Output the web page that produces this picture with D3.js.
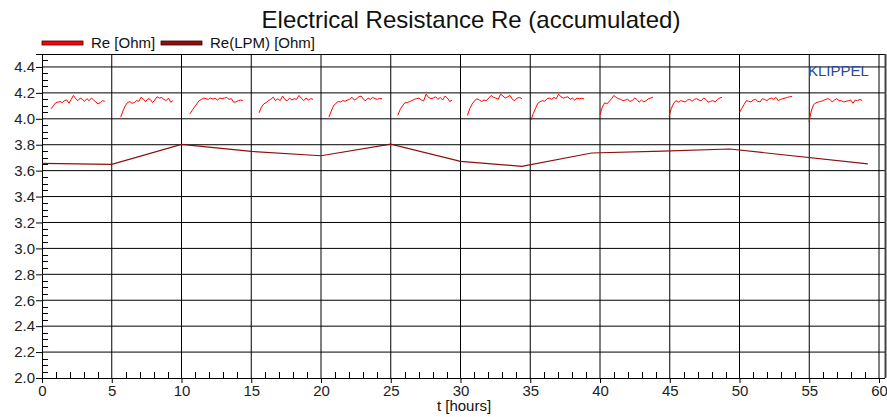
<!DOCTYPE html>
<html>
    <head>
        <title>Electrical Resistance Re (accumulated)</title>
        <meta charset="UTF-8">
        <script src="https://cdn.jsdelivr.net/npm/d3@7"></script>
        <style>
            body { margin: 0; background: #fff; }
            text { font-family: "Liberation Sans", Arial, sans-serif; }
        </style>
    </head>
    <body>
        <script>
// measured segments of Re (hours)
var segStart = [0.65, 5.64, 10.6, 15.56, 20.57, 25.5, 30.5, 35.05, 40.0, 44.95, 50.0, 54.98];
var segEnd = [4.5, 9.39, 14.4, 19.43, 24.37, 29.4, 34.4, 38.85, 43.8, 48.75, 53.76, 58.8];
var reSeg = [
    [4.077, 4.10, 4.123, 4.128, 4.133, 4.125, 4.14, 4.146, 4.12, 4.15, 4.18, 4.155, 4.14, 4.16, 4.15, 4.135, 4.155, 4.14, 4.16, 4.145, 4.13, 4.115, 4.125, 4.14, 4.135],
    [4.013, 4.06, 4.10, 4.125, 4.133, 4.12, 4.125, 4.14, 4.135, 4.167, 4.15, 4.133, 4.155, 4.15, 4.125, 4.145, 4.17, 4.16, 4.165, 4.15, 4.14, 4.16, 4.128, 4.14],
    [4.038, 4.065, 4.09, 4.115, 4.14, 4.15, 4.16, 4.155, 4.15, 4.16, 4.152, 4.158, 4.145, 4.16, 4.155, 4.16, 4.165, 4.15, 4.155, 4.128, 4.13, 4.14, 4.145, 4.141],
    [4.046, 4.09, 4.115, 4.125, 4.14, 4.15, 4.167, 4.14, 4.155, 4.14, 4.175, 4.148, 4.14, 4.16, 4.145, 4.155, 4.15, 4.18, 4.16, 4.14, 4.16, 4.145, 4.155, 4.15],
    [4.013, 4.06, 4.10, 4.12, 4.133, 4.13, 4.14, 4.135, 4.145, 4.15, 4.167, 4.145, 4.155, 4.17, 4.175, 4.15, 4.14, 4.16, 4.15, 4.165, 4.155, 4.15, 4.158, 4.154],
    [4.026, 4.07, 4.10, 4.123, 4.125, 4.133, 4.14, 4.15, 4.155, 4.16, 4.145, 4.14, 4.19, 4.165, 4.155, 4.16, 4.17, 4.15, 4.165, 4.145, 4.175, 4.16, 4.133, 4.145],
    [4.026, 4.08, 4.115, 4.14, 4.154, 4.145, 4.133, 4.145, 4.14, 4.16, 4.18, 4.165, 4.16, 4.15, 4.19, 4.175, 4.16, 4.17, 4.18, 4.15, 4.14, 4.16, 4.165, 4.155],
    [3.99, 4.04, 4.08, 4.12, 4.133, 4.14, 4.135, 4.155, 4.16, 4.15, 4.165, 4.155, 4.19, 4.17, 4.16, 4.165, 4.17, 4.15, 4.16, 4.145, 4.16, 4.155, 4.158, 4.154],
    [4.03, 4.09, 4.123, 4.115, 4.135, 4.154, 4.18, 4.165, 4.155, 4.15, 4.14, 4.145, 4.15, 4.135, 4.14, 4.16, 4.15, 4.128, 4.145, 4.13, 4.14, 4.155, 4.16, 4.167],
    [4.018, 4.08, 4.12, 4.14, 4.128, 4.14, 4.135, 4.13, 4.145, 4.15, 4.135, 4.15, 4.155, 4.145, 4.14, 4.16, 4.15, 4.128, 4.135, 4.14, 4.13, 4.15, 4.16, 4.165],
    [4.05, 4.08, 4.11, 4.14, 4.135, 4.13, 4.145, 4.15, 4.135, 4.13, 4.155, 4.15, 4.14, 4.155, 4.16, 4.15, 4.165, 4.14, 4.15, 4.155, 4.16, 4.165, 4.17, 4.172],
    [3.975, 4.06, 4.11, 4.123, 4.13, 4.133, 4.14, 4.148, 4.155, 4.15, 4.13, 4.145, 4.155, 4.14, 4.14, 4.13, 4.135, 4.14, 4.145, 4.12, 4.145, 4.14, 4.15, 4.14]
];
// Re(LPM)
var lpmT = [0, 5, 10, 15, 20, 25, 30, 34.4, 39.4, 44.5, 49.3, 59.2];
var lpmRe = [3.656, 3.648, 3.802, 3.748, 3.715, 3.805, 3.672, 3.633, 3.736, 3.75, 3.767, 3.652];

var xTicks = [0, 5, 10, 15, 20, 25, 30, 35, 40, 45, 50, 55, 60];
var yTicks = [2.0, 2.2, 2.4, 2.6, 2.8, 3.0, 3.2, 3.4, 3.6, 3.8, 4.0, 4.2, 4.4];

var Width = 887, Height = 417;
var pLeft = 42, pRight = 885, pTop = 54, pBottom = 378;

var svg = d3.select("body")
            .append("svg")
            .attr("width", Width)
            .attr("height", Height);

var x = d3.scaleLinear().domain([0, 60]).range([pLeft, 879]);
var y = d3.scaleLinear().domain([2.0, 4.5]).range([pBottom, pTop]);

// grid
svg.append("g").selectAll("line")
    .data(xTicks.slice(1))
    .enter().append("line")
    .attr("x1", function(d){return x(d);})
    .attr("x2", function(d){return x(d);})
    .attr("y1", pTop).attr("y2", pBottom)
    .attr("stroke", "#000").attr("stroke-width", 1);
svg.append("g").selectAll("line")
    .data(yTicks.slice(1))
    .enter().append("line")
    .attr("x1", pLeft).attr("x2", pRight)
    .attr("y1", function(d){return y(d);})
    .attr("y2", function(d){return y(d);})
    .attr("stroke", "#000").attr("stroke-width", 1);

// frame
svg.append("line").attr("x1", pLeft).attr("x2", pRight).attr("y1", pTop + 0.5).attr("y2", pTop + 0.5)
    .attr("stroke", "#000");
svg.append("line").attr("x1", pRight + 0.5).attr("x2", pRight + 0.5).attr("y1", pTop).attr("y2", pBottom)
    .attr("stroke", "#444").attr("stroke-width", 2);

// axes
var yAxis = d3.axisLeft(y).tickValues(yTicks).tickSize(6).tickPadding(1)
    .tickFormat(d3.format(".1f"));
var gy = svg.append("g").attr("transform", "translate(" + pLeft + ",0)").call(yAxis);
var xAxis = d3.axisBottom(x).tickValues(xTicks).tickSize(5).tickPadding(2)
    .tickFormat(d3.format("d"));
var gx = svg.append("g").attr("transform", "translate(0," + pBottom + ")").call(xAxis);
[gx, gy].forEach(function(g){
    g.select(".domain").attr("stroke", "#000");
    g.selectAll(".tick line").attr("stroke", "#000");
    g.selectAll("text").attr("fill", "#222").style("font-size", "15px")
        .style("font-family", "Liberation Sans, Arial, sans-serif");
});
gx.select(".domain").attr("d", "M" + pLeft + ",0.5H" + pRight);

// minor ticks (inside)
var yMinor = d3.range(2.05, 4.5, 0.05).filter(function(v){return Math.abs(v * 5 - Math.round(v * 5)) > 0.01;});
svg.append("g").selectAll("line").data(yMinor).enter().append("line")
    .attr("x1", pLeft).attr("x2", pLeft + 6)
    .attr("y1", function(d){return Math.round(y(d)) + 0.5;})
    .attr("y2", function(d){return Math.round(y(d)) + 0.5;})
    .attr("stroke", "#000");
var xMinor = d3.range(1, 60, 1).filter(function(v){return v % 5 != 0;});
svg.append("g").selectAll("line").data(xMinor).enter().append("line")
    .attr("x1", function(d){return Math.round(x(d)) + 0.5;})
    .attr("x2", function(d){return Math.round(x(d)) + 0.5;})
    .attr("y1", pBottom).attr("y2", pBottom - 6)
    .attr("stroke", "#000");

// Re(LPM)
var line = d3.line().x(function(d){return x(d[0]);}).y(function(d){return y(d[1]);});
svg.append("path")
    .datum(lpmT.map(function(t, i){return [t, lpmRe[i]];}))
    .attr("d", line)
    .attr("fill", "none")
    .attr("stroke", "#8b1010")
    .attr("stroke-width", 1.2);

// Re segments
reSeg.forEach(function(vals, k){
    var n = vals.length;
    var pts = vals.map(function(v, i){
        return [segStart[k] + (segEnd[k] - segStart[k]) * i / (n - 1), v];
    });
    svg.append("path")
        .datum(pts)
        .attr("d", line)
        .attr("fill", "none")
        .attr("stroke", "#ff0000")
        .attr("stroke-width", 1);
});

// title
svg.append("text")
    .attr("x", 471).attr("y", 28)
    .attr("text-anchor", "middle")
    .style("font-size", "24px")
    .attr("fill", "#111")
    .text("Electrical Resistance Re (accumulated)");

// legend
var legend = [["Re [Ohm]", "#ff0000", 42], ["Re(LPM) [Ohm]", "#8b1010", 161]];
legend.forEach(function(l){
    svg.append("rect")
        .attr("x", l[2]).attr("y", 41)
        .attr("width", 41).attr("height", 4)
        .attr("fill", l[1]).attr("stroke", "#400").attr("stroke-width", 0.8);
    svg.append("text")
        .attr("x", l[2] + 49).attr("y", 48)
        .style("font-size", "15px")
        .attr("fill", "#111")
        .text(l[0]);
});

svg.append("text")
    .attr("x", 808).attr("y", 76)
    .style("font-size", "15px")
    .attr("fill", "#2a4a9a")
    .text("KLIPPEL");

svg.append("text")
    .attr("x", 464).attr("y", 411)
    .attr("text-anchor", "middle")
    .style("font-size", "15px")
    .attr("fill", "#111")
    .text("t [hours]");
        </script>
    </body>
</html>
